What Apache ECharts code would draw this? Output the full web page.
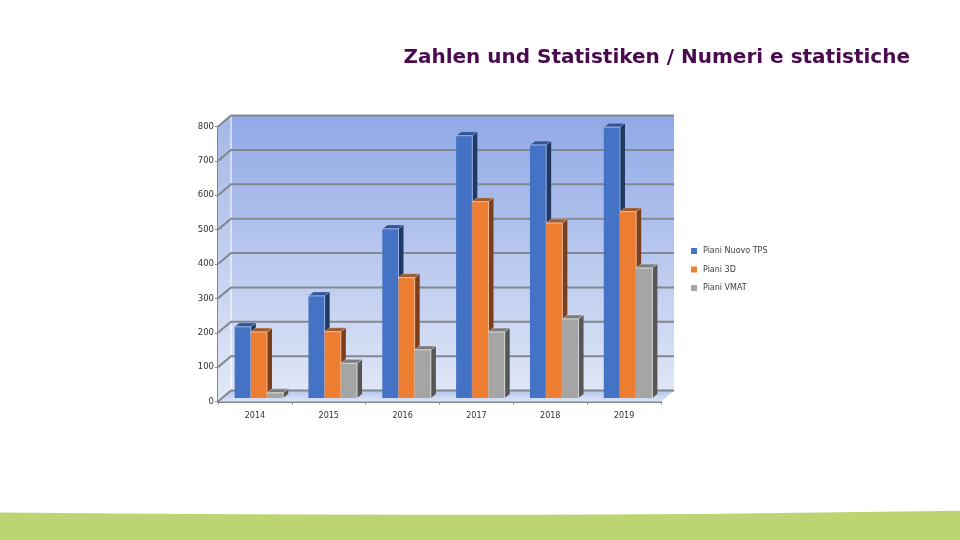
<!DOCTYPE html>
<html><head><meta charset="utf-8">
<style>html,body{margin:0;padding:0;background:#fff}#c{width:960px;height:540px}</style>
<script src="https://cdn.jsdelivr.net/npm/echarts@6/dist/echarts.min.js"></script>
</head><body><div id="c"></div>
<script>
const categories = ['2014','2015','2016','2017','2018','2019'];
const tickValues = [0,100,200,300,400,500,600,700,800];
const pianiNuovoTPS = [207,297,492,763,736,788];
const piani3D = [192,193,350,571,509,542];
const pianiVMAT = [15,101,140,192,230,378];
const titleText = 'Zahlen und Statistiken / Numeri e statistiche';

const chart = echarts.init(document.getElementById('c'), null, {renderer:'canvas'});
const WALL_DX = 13, WALL_DY = -11;          // depth of the chart box
const BAR_SHIFT_X = 4, BAR_SHIFT_Y = -3.5;  // bars stand inside the box
const BAR_W = 16.2, SIDE_DX = 5, SIDE_DY = -4;
const GRID_COLOR = '#82888f';

function poly(points, style){
  return {type:'polygon', shape:{points}, style, silent:true};
}
function renderWalls(params, api){
  const c = params.coordSys;
  const l = c.x, r = c.x + c.width, t = c.y, b = c.y + c.height;
  const back = poly([[l+WALL_DX,t+WALL_DY],[r+WALL_DX,t+WALL_DY],[r+WALL_DX,b+WALL_DY],[l+WALL_DX,b+WALL_DY]],
    {fill:new echarts.graphic.LinearGradient(0,0,0,1,[{offset:0,color:'#8fa8e6'},{offset:1,color:'#dfe6f6'}])});
  const side = poly([[l,t],[l+WALL_DX,t+WALL_DY],[l+WALL_DX,b+WALL_DY],[l,b]],
    {fill:new echarts.graphic.LinearGradient(0,0,0,1,[{offset:0,color:'#a3b8e6'},{offset:1,color:'#e2e8f7'}])});
  const floor = poly([[l,b],[l+WALL_DX,b+WALL_DY],[r+WALL_DX,b+WALL_DY],[r,b]],
    {fill:new echarts.graphic.LinearGradient(0,0,0,1,[{offset:0,color:'#b4c5ee'},{offset:1,color:'#dde4f6'}])});
  const edge = {type:'line', shape:{x1:l+WALL_DX,y1:t+WALL_DY,x2:l+WALL_DX,y2:b+WALL_DY}, style:{stroke:'#ffffff',lineWidth:1}, silent:true};
  return {type:'group', children:[back,side,floor,edge]};
}
function renderGrid(p, api){
  const c = p.coordSys, y = api.coord([0, api.value(1)])[1], l = c.x, r = c.x + c.width;
  return {type:'polyline', silent:true,
    shape:{points:[[l,y],[l+WALL_DX,y+WALL_DY],[r+WALL_DX,y+WALL_DY]]},
    style:{stroke:GRID_COLOR,lineWidth:2,fill:null}};
}
function barRenderer(index, front, side, top, edge){
  return function(params, api){
    const cat = api.value(0), v = api.value(1);
    const p0 = api.coord([cat, 0]), p1 = api.coord([cat, v]);
    const x0 = p0[0] + BAR_SHIFT_X + (index - 1.5) * BAR_W;
    const x1 = x0 + BAR_W;
    const yb = p0[1] + BAR_SHIFT_Y, yt = p1[1] + BAR_SHIFT_Y;
    return {type:'group', children:[
      poly([[x1,yb],[x1+SIDE_DX,yb+SIDE_DY],[x1+SIDE_DX,yt+SIDE_DY],[x1,yt]],{fill:side}),
      poly([[x0,yt],[x0+SIDE_DX,yt+SIDE_DY],[x1+SIDE_DX,yt+SIDE_DY],[x1,yt]],{fill:top,stroke:edge,lineWidth:0.5}),
      poly([[x0,yb],[x1,yb],[x1,yt],[x0,yt]],{fill:front}),
      {type:'polyline',shape:{points:[[x0,yt],[x1,yt],[x1,yb]]},style:{stroke:edge,lineWidth:0.8,fill:null},silent:true}
    ]};
  };
}
function barSeries(name, values, index, front, side, top, edge){
  return {type:'custom', name, coordinateSystem:'cartesian2d', clip:false, z:3+index,
    itemStyle:{color:front}, encode:{x:0,y:1},
    data:values.map((v,i)=>[i,v]), renderItem:barRenderer(index,front,side,top,edge)};
}

chart.setOption({
  animation:false,
  backgroundColor:'#ffffff',
  tooltip:{show:false},
  title:{text:titleText, right:45, top:43,
    textStyle:{fontFamily:'DejaVu Sans',fontSize:20,fontWeight:'bold',color:'#4a0a4e'}},
  legend:{orient:'vertical', left:686, top:242, itemWidth:6, itemHeight:6, itemGap:10.5, icon:'rect',
    selectedMode:false, itemStyle:{borderWidth:0},
    textStyle:{fontFamily:'DejaVu Sans',fontSize:8,color:'#404040',padding:[0,0,0,1]},
    data:['Piani Nuovo TPS','Piani 3D','Piani VMAT']},
  grid:{left:218, right:299, top:126.5, bottom:138.5},
  xAxis:{type:'category', data:categories,
    axisLine:{lineStyle:{color:GRID_COLOR,width:2}},
    axisTick:{show:true,length:3,lineStyle:{color:GRID_COLOR,width:1}},
    axisLabel:{fontFamily:'DejaVu Sans',fontSize:8,color:'#303030',margin:10},
    splitLine:{show:false}},
  yAxis:{type:'value', min:0, max:800, interval:100,
    axisLine:{show:true,lineStyle:{color:GRID_COLOR,width:2}},
    axisTick:{show:true,length:3,lineStyle:{color:GRID_COLOR,width:1}},
    axisLabel:{fontFamily:'DejaVu Sans',fontSize:8.5,color:'#303030',margin:4},
    splitLine:{show:false}},
  graphic:[{type:'polygon', silent:true, z:0,
    shape:{points:[[0,512.5],[120,513.6],[240,514.3],[400,514.8],[540,514.8],[700,514],[820,512.6],[900,511.4],[960,510.8],[960,540],[0,540]]},
    style:{fill:'#bcd472'}}],
  series:[
    {type:'custom', coordinateSystem:'cartesian2d', clip:false, z:1, silent:true,
      data:[[0,0]], renderItem:renderWalls, encode:{x:0,y:1}},
    {type:'custom', coordinateSystem:'cartesian2d', clip:false, z:2, silent:true,
      data:tickValues.map(v=>[0,v]), renderItem:renderGrid, encode:{x:0,y:1}},
    barSeries('Piani Nuovo TPS', pianiNuovoTPS, 0, '#4472c4', '#203864', '#2f5597', '#a9bfeb'),
    barSeries('Piani 3D', piani3D, 1, '#ed7d31', '#7b3f1d', '#9c5a33', '#f8c7a2'),
    barSeries('Piani VMAT', pianiVMAT, 2, '#a5a5a5', '#565656', '#7c7c7c', '#e2e2e2')
  ]
});
</script></body></html>
